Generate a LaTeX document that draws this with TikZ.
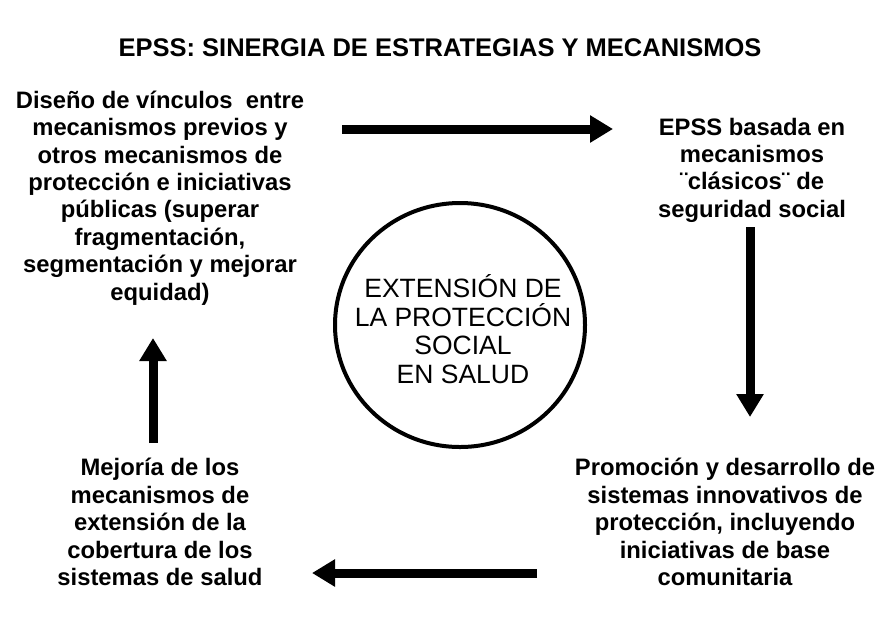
\documentclass[tikz,border=0pt]{standalone}
\usepackage{fontspec}
\setmainfont{Liberation Sans}
\usetikzlibrary{arrows.meta}
\begin{document}
\begin{tikzpicture}[x=1pt,y=-1pt,
  lbl/.style={align=center, font=\fontsize{23.8}{27.4}\selectfont\bfseries, inner sep=0pt},
  bigarrow/.style={line width=9pt, -{Triangle[length=23pt,width=26pt]}},
  hubtext/.style={align=center, font=\fontsize{26.5}{28.5}\selectfont, inner sep=0pt}
  ]
\useasboundingbox (0,0) rectangle (880,622);
\node[font=\fontsize{25.5}{30}\selectfont\bfseries] (title) at (440,48) {EPSS: SINERGIA DE ESTRATEGIAS Y MECANISMOS};

\node[lbl] (tl) at (160,198) {Diseño de vínculos\ \ entre\\mecanismos previos y\\otros mecanismos de\\protección e iniciativas\\públicas (superar\\fragmentación,\\segmentación y mejorar\\equidad)};
\node[lbl] (tr) at (752,170) {EPSS basada en\\mecanismos\\¨clásicos¨ de\\seguridad social};
\node[lbl] (br) at (725,522) {Promoción y desarrollo de\\sistemas innovativos de\\protección, incluyendo\\iniciativas de base\\comunitaria};
\node[lbl] (bl) at (160,522) {Mejoría de los\\mecanismos de\\extensión de la\\cobertura de los\\sistemas de salud};

\draw[line width=4pt] (460,325) ellipse [x radius=125pt, y radius=122pt];
\node[hubtext] (hub) at (463,329) {EXTENSIÓN DE\\LA PROTECCIÓN\\SOCIAL\\EN SALUD};

\coordinate (a1s) at (342,129); \coordinate (a1e) at (613,129);
\coordinate (a2s) at (750,227); \coordinate (a2e) at (750,417);
\coordinate (a3s) at (537,573); \coordinate (a3e) at (312,573);
\coordinate (a4s) at (153,443); \coordinate (a4e) at (153,338);
\draw[bigarrow] (a1s) -- (a1e);
\draw[bigarrow] (a2s) -- (a2e);
\draw[bigarrow] (a3s) -- (a3e);
\draw[bigarrow] (a4s) -- (a4e);
\end{tikzpicture}
\end{document}
